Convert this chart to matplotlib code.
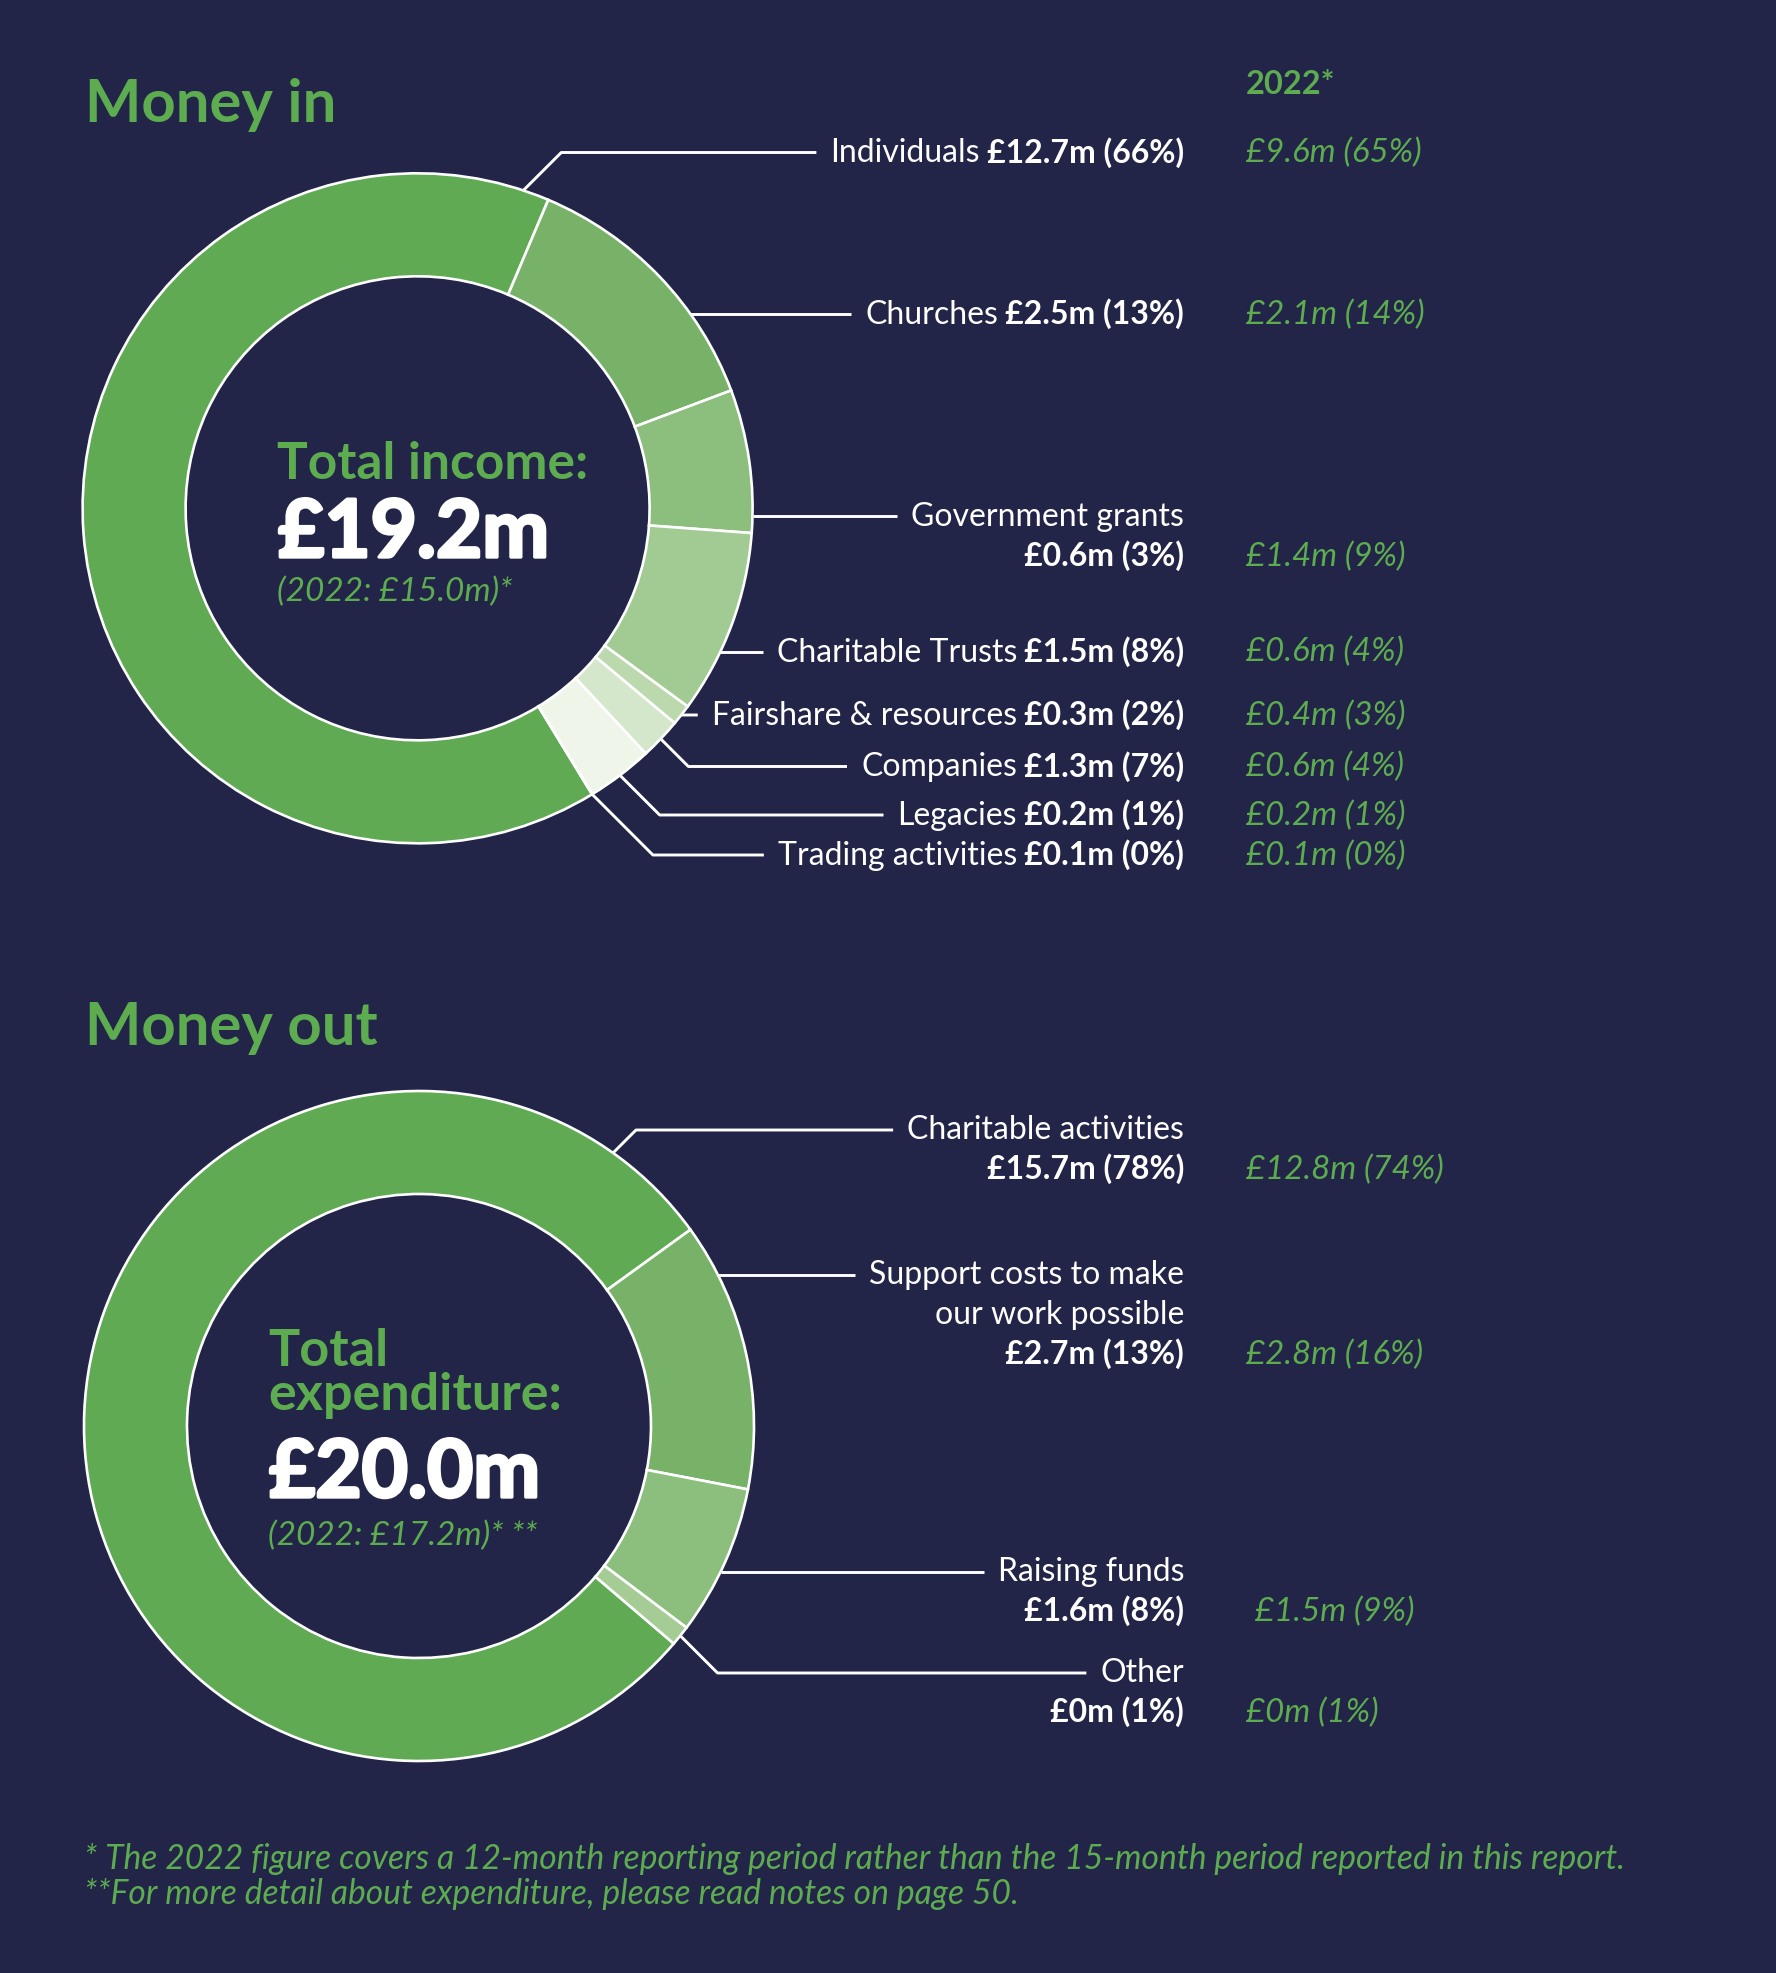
import numpy as np
import matplotlib
matplotlib.use("Agg")
import matplotlib.pyplot as plt
import matplotlib.patheffects as pe

W, H = 1776, 1973
BG = "#222448"
GREEN = "#5dac50"
WHITE = "#ffffff"

plt.rcParams['font.family'] = ['Lato', 'DejaVu Sans']

# ---- money in ----
income_names = ["Individuals", "Churches", "Government grants", "Charitable Trusts",
                "Fairshare & resources", "Companies", "Legacies", "Trading activities"]
income_amounts = ["£12.7m (66%)", "£2.5m (13%)", "£0.6m (3%)", "£1.5m (8%)",
                  "£0.3m (2%)", "£1.3m (7%)", "£0.2m (1%)", "£0.1m (0%)"]
income_2022 = ["£9.6m (65%)", "£2.1m (14%)", "£1.4m (9%)", "£0.6m (4%)",
               "£0.4m (3%)", "£0.6m (4%)", "£0.2m (1%)", "£0.1m (0%)"]
# wedge sizes as drawn in the picture (%)
income_wedge = [65.1, 12.9, 6.9, 8.9, 1.0, 2.0, 3.2, 0.0]
income_colors = ["#60aa53", "#78b268", "#8cbf7d", "#a2ca93",
                 "#bcd9ae", "#d5e7ca", "#eff5e9", "#ffffff"]

# ---- money out ----
expense_names = [["Charitable activities"], ["Support costs to make", "our work possible"],
                 ["Raising funds"], ["Other"]]
expense_amounts = ["£15.7m (78%)", "£2.7m (13%)", "£1.6m (8%)", "£0m (1%)"]
expense_2022 = ["£12.8m (74%)", "£2.8m (16%)", "£1.5m (9%)", "£0m (1%)"]
expense_wedge = [78.8, 13.0, 7.25, 0.97]
expense_colors = ["#60aa53", "#78b268", "#8cbf7d", "#a5cc95"]

# layout (pixel positions from top of page)
R_OUT, R_IN = 335, 232
C1 = (417.6, 508.3)
C2 = (419.0, 1426.0)
RX = 1184       # right edge of labels
OX = 1246       # left edge of 2022 column
LS = 40         # line spacing
FS = 23         # label size
FS_OLD = 23.8   # 2022 column size

# income: (inline?, first baseline, anchor) anchor: 'h' horizontal, 'mid', or angle cw from top
income_inline = [True, True, False, True, True, True, True, True]
income_base = [162.5, 324, 526, 661.5, 725, 776.5, 825, 865]
income_anchor = [18.4, 'h', 'h', 'h', 'mid', 'mid', 'mid', 'mid']
expense_base = [1139, 1284, 1581, 1682]
expense_anchor = [35.4, 'h', 'h', 'mid']
expense_old_dx = [0, 0, 9, 0]

heavy = [pe.withStroke(linewidth=2.4, foreground=WHITE)]


def Y(y):
    return H - y


fig = plt.figure(figsize=(W / 100, H / 100), dpi=100, facecolor=BG)
ax = fig.add_axes([0, 0, 1, 1])
ax.set_facecolor(BG)

wp = dict(width=R_OUT - R_IN, edgecolor=WHITE, linewidth=1.9)
w1, _ = ax.pie(income_wedge, colors=income_colors, startangle=90 - 148.6,
               counterclock=False, radius=R_OUT, center=(C1[0], Y(C1[1])),
               wedgeprops=wp)
w2, _ = ax.pie(expense_wedge, colors=expense_colors, startangle=90 - 130.5,
               counterclock=False, radius=R_OUT, center=(C2[0], Y(C2[1])),
               wedgeprops=wp)
ax.set_xlim(0, W)
ax.set_ylim(0, H)
ax.set_aspect('equal')
ax.axis('off')

renderer = fig.canvas.get_renderer()


def left_of(t):
    return t.get_window_extent(renderer).x0


def draw_label(names, amount, old, base, inline, old_dx=0):
    if inline:
        t = ax.text(RX, Y(base), amount, ha='right', va='baseline', color=WHITE,
                    fontsize=FS, fontweight='bold')
        t2 = ax.text(left_of(t) - 7, Y(base), names[0], ha='right', va='baseline',
                     color=WHITE, fontsize=FS)
        first_left = left_of(t2)
        last_base = base
    else:
        first_left = None
        for i, nm in enumerate(names):
            t2 = ax.text(RX, Y(base + i * LS), nm, ha='right', va='baseline',
                         color=WHITE, fontsize=FS)
            if first_left is None:
                first_left = left_of(t2)
        last_base = base + len(names) * LS
        ax.text(RX, Y(last_base), amount, ha='right', va='baseline', color=WHITE,
                fontsize=FS, fontweight='bold')
    ax.text(OX + old_dx, Y(last_base), old, ha='left', va='baseline', color=GREEN,
            fontsize=FS_OLD, fontstyle='italic')
    return first_left


def draw_leader(wedge, center, anchor, line_y, end_x):
    cx, cy = center[0], Y(center[1])
    ly = Y(line_y)
    if anchor == 'h':
        ax_ = cx + np.sqrt(R_OUT ** 2 - (ly - cy) ** 2)
        xs, ys = [ax_, end_x], [ly, ly]
    else:
        if anchor == 'mid':
            ang = np.radians((wedge.theta1 + wedge.theta2) / 2)
        else:
            ang = np.radians(90 - anchor)
        px, py = cx + R_OUT * np.cos(ang), cy + R_OUT * np.sin(ang)
        ex = px + abs(ly - py)
        xs, ys = [px, ex, end_x], [py, ly, ly]
    ax.plot(xs, ys, color=WHITE, lw=2.1, solid_capstyle='butt', zorder=1)


for i in range(len(income_names)):
    left = draw_label([income_names[i]], income_amounts[i], income_2022[i],
                      income_base[i], income_inline[i])
    draw_leader(w1[i], C1, income_anchor[i], income_base[i] - 10, left - 14)

for i in range(len(expense_names)):
    left = draw_label(expense_names[i], expense_amounts[i], expense_2022[i],
                      expense_base[i], False, expense_old_dx[i])
    draw_leader(w2[i], C2, expense_anchor[i], expense_base[i] - 9, left - 14)

# headings
ax.text(85, Y(122), "Money in", color=GREEN, fontsize=43, fontweight='bold')
ax.text(85, Y(1045), "Money out", color=GREEN, fontsize=43, fontweight='bold')
ax.text(OX, Y(94), "2022*", color=GREEN, fontsize=23.5, fontweight='bold')

# centre of donut 1
ax.text(277, Y(479), "Total income:", color=GREEN, fontsize=37, fontweight='bold')
ax.text(278, Y(557), "£19.2m", color=WHITE, fontsize=57.5, fontweight='bold',
        path_effects=heavy)
ax.text(277, Y(601), "(2022: £15.0m)*", color=GREEN, fontsize=24, fontstyle='italic')

# centre of donut 2
ax.text(268, Y(1366), "Total", color=GREEN, fontsize=37.5, fontweight='bold')
ax.text(268, Y(1410), "expenditure:", color=GREEN, fontsize=37.5, fontweight='bold')
ax.text(269, Y(1497), "£20.0m", color=WHITE, fontsize=57.5, fontweight='bold',
        path_effects=heavy)
ax.text(268, Y(1545), "(2022: £17.2m)* **", color=GREEN, fontsize=24, fontstyle='italic')

# footnotes
ax.text(84, Y(1869), "* The 2022 figure covers a 12-month reporting period rather than "
        "the 15-month period reported in this report.", color=GREEN, fontsize=24.2,
        fontstyle='italic')
ax.text(84, Y(1904), "**For more detail about expenditure, please read notes on page 50.",
        color=GREEN, fontsize=24.2, fontstyle='italic')

fig.savefig("out.png", dpi=100, facecolor=BG)
